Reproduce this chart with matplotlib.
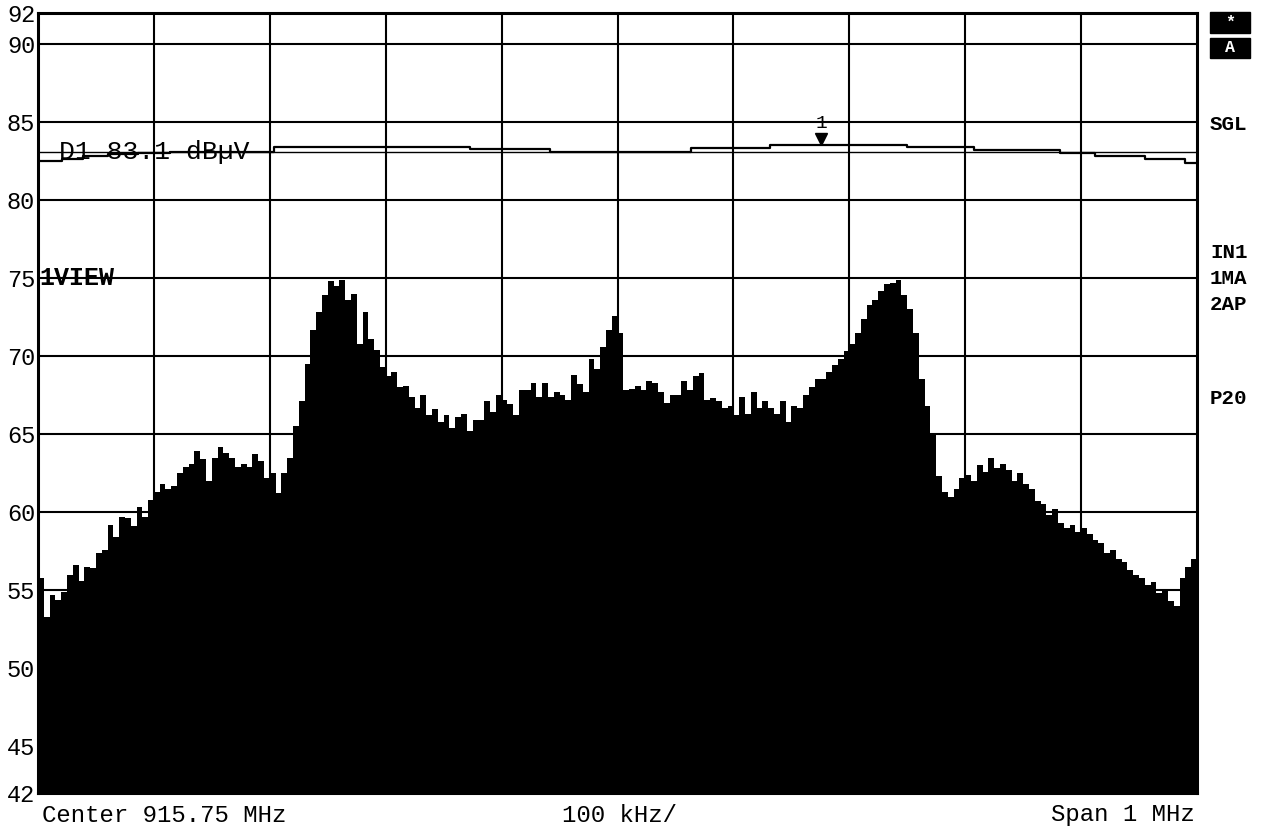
import numpy as np
import matplotlib
matplotlib.use("Agg")
import matplotlib.pyplot as plt
from matplotlib.patches import Rectangle

# Frequenzachse (MHz)
f_start = 915.25
f_stop = 916.25
n_div = 10

# Y-Achse (dBuV)
y_min, y_max = 42, 92
y_ticks = [42, 45, 50, 55, 60, 65, 70, 75, 80, 85, 90, 92]
grid_levels = [45, 50, 55, 60, 65, 70, 75, 80, 85, 90]

# Spektrum (Spur 1, Pegel in dBuV, 200 Stuetzstellen)
level = [
    55.8, 53.3, 54.7, 54.4, 54.9, 56.0, 56.6, 55.6, 56.5, 56.4,
    57.4, 57.6, 59.2, 58.4, 59.7, 59.6, 59.1, 60.3, 59.7, 60.8,
    61.3, 61.8, 61.5, 61.7, 62.5, 62.9, 63.1, 63.9, 63.4, 62.0,
    63.5, 64.2, 63.8, 63.5, 62.9, 63.1, 62.9, 63.7, 63.3, 62.2,
    62.5, 61.2, 62.5, 63.5, 65.5, 67.1, 69.5, 71.7, 72.8, 73.9,
    74.8, 74.5, 74.9, 73.6, 74.0, 70.8, 72.8, 71.1, 70.4, 69.3,
    68.7, 69.0, 68.0, 68.1, 67.4, 66.7, 67.5, 66.2, 66.6, 65.8,
    66.2, 65.4, 66.1, 66.3, 65.2, 65.9, 65.9, 67.1, 66.4, 67.5,
    67.2, 66.9, 66.2, 67.8, 67.8, 68.3, 67.4, 68.3, 67.4, 67.7,
    67.5, 67.2, 68.8, 68.2, 67.7, 69.8, 69.2, 70.6, 71.7, 72.6,
    71.5, 67.8, 67.9, 68.1, 67.8, 68.4, 68.3, 67.7, 67.0, 67.5,
    67.5, 68.4, 67.8, 68.7, 68.9, 67.2, 67.3, 67.1, 66.7, 66.8,
    66.2, 67.4, 66.3, 67.7, 66.7, 67.1, 66.7, 66.3, 67.1, 65.8,
    66.8, 66.7, 67.5, 68.0, 68.5, 68.5, 69.0, 69.4, 69.8, 70.3,
    70.8, 71.5, 72.4, 73.3, 73.6, 74.2, 74.6, 74.7, 74.9, 73.9,
    73.0, 71.5, 68.5, 66.8, 65.0, 62.3, 61.3, 61.0, 61.5, 62.2,
    62.4, 62.0, 63.0, 62.6, 63.5, 62.8, 63.1, 62.7, 62.0, 62.5,
    61.8, 61.5, 60.7, 60.5, 59.8, 60.2, 59.3, 59.0, 59.2, 58.7,
    59.0, 58.6, 58.2, 58.0, 57.4, 57.6, 57.0, 56.8, 56.3, 56.0,
    55.8, 55.3, 55.5, 54.8, 55.0, 54.3, 54.0, 55.8, 56.5, 57.0,
]

# Max-Hold Spur (Stufen)
hold_freq = [915.25, 915.271, 915.289, 915.310, 915.336, 915.364, 915.454,
             915.623, 915.692, 915.813, 915.882, 916.0, 916.058, 916.132,
             916.162, 916.205, 916.240]
hold_level = [82.5, 82.6, 82.8, 82.95, 83.0, 83.1, 83.4, 83.25, 83.1,
              83.35, 83.55, 83.4, 83.2, 83.0, 82.8, 82.6, 82.4]

display_line = 83.1
marker_freq = 915.926
marker_level = 83.9

W, H = 1265, 827
fig = plt.figure(figsize=(W / 100, H / 100), dpi=100)
ax = fig.add_axes([38 / W, (H - 793) / H, (1197 - 38) / W, (793 - 12.8) / H])

mono = "Liberation Mono"

# Spektrum als gefuellte Balken
step = (f_stop - f_start) / len(level)
freqs = np.linspace(f_start, f_stop, len(level), endpoint=False)
lv = np.array(level)
ax.bar(freqs, lv - y_min, bottom=y_min, width=step, align="edge",
       color="black", linewidth=0, zorder=2)

# Raster
for g in grid_levels:
    ax.axhline(g, color="black", lw=1.5, zorder=3)
for xv in np.linspace(f_start, f_stop, n_div + 1)[1:-1]:
    ax.axvline(xv, color="black", lw=1.5, zorder=3)

# Max hold + Display line
ax.step(hold_freq + [f_stop], hold_level + [hold_level[-1]], where="post",
        color="black", lw=1.6, zorder=4)
ax.axhline(display_line, color="black", lw=1.0, zorder=4)
ax.text(915.2685, display_line, "D1 83.1 dB\u00b5V", family=mono, fontsize=19,
        va="center", ha="left", zorder=5)

# Marker 1
ax.plot([marker_freq], [marker_level], marker="v", color="black",
        markersize=9, zorder=5)
ax.text(marker_freq, marker_level + 1.0, "1", family=mono, fontsize=14,
        ha="center", va="center", zorder=5)

ax.text(915.2515, 75, "1VIEW", family=mono, fontsize=18, fontweight="bold",
        ha="left", va="center", zorder=5)

ax.set_xlim(f_start, f_stop)
ax.set_ylim(y_min, y_max)
ax.set_xticks([])
ax.set_yticks(y_ticks)
ax.set_yticklabels([str(t) for t in y_ticks], family=mono, fontsize=17)
ax.tick_params(axis="y", length=0, pad=2)
for s in ax.spines.values():
    s.set_linewidth(2.2)
    s.set_zorder(6)

# Beschriftung unten
fy = 1 - 815 / H
fig.text(42 / W, fy, "Center 915.75 MHz", family=mono, fontsize=17.3,
         ha="left", va="center")
fig.text(620 / W, fy, "100 kHz/", family=mono, fontsize=17.3,
         ha="center", va="center")
fig.text(1195 / W, fy, "Span 1 MHz", family=mono, fontsize=17.3,
         ha="right", va="center")

# Statusfelder rechts
for y0, y1, lab in [(12, 33, "*"), (38, 58, "A")]:
    fig.add_artist(Rectangle((1210 / W, 1 - y1 / H), 40 / W, (y1 - y0) / H,
                             transform=fig.transFigure, color="black"))
    fig.text(1230 / W, 1 - (y0 + y1) / 2 / H, lab, family=mono, fontsize=12,
             fontweight="bold", color="white", ha="center", va="center")

for yp, lab in [(125, "SGL"), (253, "IN1"), (279, "1MA"), (304, "2AP"),
                (398, "P20")]:
    fig.text(1210 / W, 1 - yp / H, lab, family=mono, fontsize=15,
             fontweight="bold", ha="left", va="center")

fig.savefig("out.png", dpi=100)
